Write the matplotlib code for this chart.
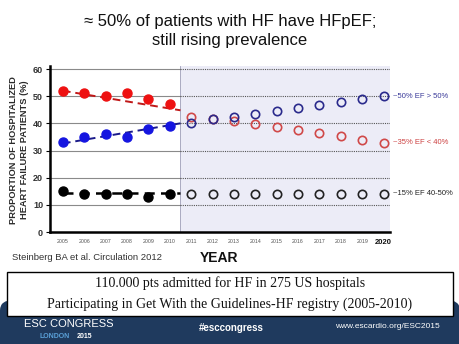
import matplotlib
matplotlib.use("Agg")
import matplotlib.pyplot as plt
from matplotlib.patches import FancyBboxPatch, Rectangle
import numpy as np

plt.rcParams['font.family'] = ['Liberation Sans', 'DejaVu Sans']

# ---- data ----
years_obs = [2005, 2006, 2007, 2008, 2009, 2010]
hfref_obs = [52, 51, 50, 51, 49, 47]
hfpef_obs = [33, 35, 36, 35, 38, 39]
hfmid_obs = [15, 14, 14, 14, 13, 14]

years_proj = [2011, 2012, 2013, 2014, 2015, 2016, 2017, 2018, 2019, 2020]
hfpef_proj = [40, 41.5, 42.5, 43.5, 44.7, 45.7, 46.7, 47.8, 48.8, 49.9]
hfref_proj = [42.4, 41.5, 40.8, 39.6, 38.6, 37.5, 36.5, 35.3, 33.9, 32.8]
hfmid_proj = [14, 14, 14, 14, 14, 14, 14, 14, 14, 14]

trend_x = [2005, 2010.5]
hfref_trend = [52, 44.8]
hfpef_trend = [32.6, 40]
hfmid_trend = [14.3, 14.3]

yticks = [0, 10, 20, 30, 40, 50, 60]
right_labels = ["~50% EF > 50%", "~35% EF < 40%", "~15% EF 40-50%"]

W, H = 460, 344
fig = plt.figure(figsize=(W / 100, H / 100), dpi=100)
fig.patch.set_facecolor('white')

def fx(px):
    return px / W

def fy(py):
    return 1 - py / H

# axes
ax_l, ax_r, ax_b, ax_t = 50, 390, 232, 66.3
ax = fig.add_axes([fx(ax_l), fy(ax_b), fx(ax_r - ax_l), (ax_b - ax_t) / H])
ax.set_xlim(2004.4, 2020.3)
ax.set_ylim(0, 61)
ax.set_facecolor('white')

split = 2010.5
ax.axvspan(split, 2020.3, color='#ececf7', zorder=0, lw=0)
ax.axvline(split, color='#a0a0b8', lw=0.6, zorder=1)

for yv in yticks[1:]:
    ax.plot([2004.4, split], [yv, yv], color='#8a8a8a', lw=0.8, zorder=1)
    ax.plot([split, 2020.3], [yv, yv], color='#555555', lw=0.8, ls=(0, (1, 1)), zorder=1)

# trend lines
ax.plot(trend_x, hfref_trend, color='#c01818', lw=1.4, ls=(0, (4, 2.5)), zorder=2)
ax.plot(trend_x, hfpef_trend, color='#1a1a8a', lw=1.4, ls=(0, (4, 2.5)), zorder=2)
ax.plot(trend_x, hfmid_trend, color='#000000', lw=1.8, ls=(0, (4, 2.5)), zorder=2)

# observed
ax.plot(years_obs, hfref_obs, 'o', color='#ee1111', ms=6.5, mec='#ee1111', zorder=3)
ax.plot(years_obs, hfpef_obs, 'o', color='#1515e0', ms=6.5, mec='#1515e0', zorder=3)
ax.plot(years_obs, hfmid_obs, 'o', color='#000000', ms=6.5, zorder=3)

# projected
ax.plot(years_proj, hfref_proj, 'o', mfc='none', mec='#d04848', ms=6, mew=1.2, zorder=3)
ax.plot(years_proj, hfpef_proj, 'o', mfc='none', mec='#2a2a8c', ms=6, mew=1.2, zorder=3)
ax.plot(years_proj, hfmid_proj, 'o', mfc='none', mec='#222222', ms=6, mew=1.2, zorder=3)

# spines
for s in ['top', 'right']:
    ax.spines[s].set_visible(False)
ax.spines['left'].set_linewidth(1.8)
ax.spines['bottom'].set_linewidth(1.8)

ax.set_yticks(yticks)
ax.set_yticklabels([str(v) for v in yticks], fontsize=6.5, fontweight='bold', color='#333333')
ax.tick_params(axis='y', length=3, width=0.8, pad=2)

all_years = years_obs + years_proj
ax.set_xticks(all_years)
ax.set_xticklabels([str(y) for y in all_years], fontsize=3.8, color='#555555')
ax.tick_params(axis='x', length=0, pad=5)
for lbl in ax.get_xticklabels():
    if lbl.get_text() == '2020':
        lbl.set_fontsize(5.5)
        lbl.set_fontweight('bold')
        lbl.set_color('#111111')

# right labels
label_vals = [hfpef_proj[-1], hfref_proj[-1], hfmid_proj[-1]]
label_cols = ['#3a3a99', '#cc4040', '#222222']
for txt, v, c in zip(right_labels, label_vals, label_cols):
    ax.annotate(txt, xy=(2020.3, v), xytext=(2.5, 0), textcoords='offset points',
                fontsize=5.5, color=c, va='center', ha='left', annotation_clip=False)

# y label
fig.text(fx(19), fy(150), "PROPORTION OF HOSPITALIZED\nHEART FAILURE PATIENTS (%)",
         rotation=90, ha='center', va='center', fontsize=6.7, fontweight='bold',
         color='#2a2a2a', linespacing=1.15)

# title
fig.text(0.5, fy(31), "\u2248 50% of patients with HF have HFpEF;\nstill rising prevalence",
         ha='center', va='center', fontsize=12, color='#111111', linespacing=1.35)

# citation & YEAR
fig.text(fx(12), fy(258), "Steinberg BA et al. Circulation 2012", fontsize=6.8,
         color='#333333', va='center', ha='left')
fig.text(fx(200), fy(258), "YEAR", fontsize=10, fontweight='bold', color='#111111',
         va='center', ha='left')

# banner
banner = FancyBboxPatch((fx(0), 0), 1.0, fy(300), boxstyle="round,pad=0,rounding_size=0.03",
                        transform=fig.transFigure, facecolor='#1f3a5e', edgecolor='none',
                        zorder=1)
fig.patches.append(banner)
fig.patches.append(Rectangle((0, 0), 1, fy(320), transform=fig.transFigure,
                             facecolor='#1f3a5e', edgecolor='none', zorder=1))

# info box
box = Rectangle((fx(7), fy(316)), fx(446), (316 - 272) / H, transform=fig.transFigure,
                facecolor='white', edgecolor='black', lw=1.0, zorder=2)
fig.patches.append(box)
fig.text(0.5, fy(283), "110.000 pts admitted for HF in 275 US hospitals",
         family=['Liberation Serif', 'DejaVu Serif'], fontsize=10, ha='center', va='center',
         color='#111111', zorder=3)
fig.text(0.5, fy(304), "Participating in Get With the Guidelines-HF registry (2005-2010)",
         family=['Liberation Serif', 'DejaVu Serif'], fontsize=10, ha='center', va='center',
         color='#111111', zorder=3)

# banner texts
fig.text(fx(24), fy(324), "ESC CONGRESS", fontsize=8, color='white', ha='left',
         va='center', zorder=3)
fig.text(fx(40), fy(337), "LONDON", fontsize=5, color='#5aa0d8', ha='left',
         va='center', fontweight='bold', zorder=3)
fig.text(fx(77), fy(337), "2015", fontsize=5, color='white', ha='left',
         va='center', fontweight='bold', zorder=3)
fig.text(fx(231), fy(328), "#esccongress", fontsize=7, color='white', ha='center',
         va='center', fontweight='bold', zorder=3)
fig.text(fx(440), fy(327), "www.escardio.org/ESC2015", fontsize=6, color='white',
         ha='right', va='center', zorder=3)

fig.savefig("out.png", dpi=100)
